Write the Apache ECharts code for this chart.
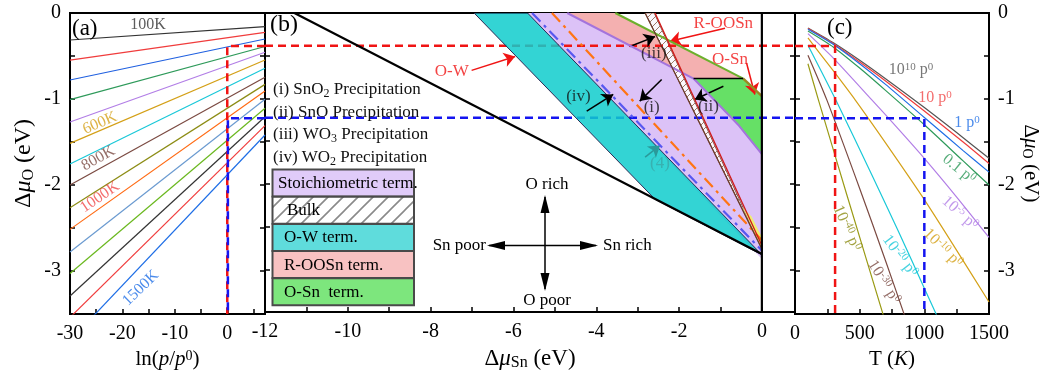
<!DOCTYPE html>
<html>
<head>
<meta charset="utf-8">
<script src="https://cdn.jsdelivr.net/npm/echarts@6.0.0/dist/echarts.min.js"></script>
<style>
html,body{margin:0;padding:0;background:#fff;}
#chart{width:1051px;height:376px;}
</style>
</head>
<body>
<div id="chart"></div>
<script>
// ================= DATA =================
// Panel (a): Δμ_O vs ln(p/p0) for T = 100K ... 1500K (straight lines, end values)
const lnpExtent = [-30, 7.2];
const tempNames = ['100K','200K','300K','400K','500K','600K','700K','800K','900K','1000K','1100K','1200K','1300K','1400K','1500K'];
const muAtLnpMin = [-0.314,-0.547,-0.779,-1.008,-1.267,-1.516,-1.756,-2.000,-2.264,-2.516,-2.780,-3.030,-3.290,-3.540,-3.810];
const muAtLnpMax = [-0.159,-0.225,-0.302,-0.390,-0.457,-0.547,-0.643,-0.748,-0.830,-0.907,-1.004,-1.108,-1.206,-1.310,-1.419];

// Panel (c): Δμ_O vs T for several pressures
const T_top    = [100, 300, 500, 700, 1000, 1300, 1500];
const mu_p1e10 = [-0.175,-0.350,-0.550,-0.765,-1.100,-1.450,-1.690];
const mu_p10   = [-0.180,-0.360,-0.570,-0.790,-1.140,-1.500,-1.750];
const mu_p1    = [-0.190,-0.370,-0.590,-0.830,-1.215,-1.600,-1.850];
const mu_p01   = [-0.210,-0.400,-0.640,-0.900,-1.300,-1.720,-2.000];
const T_pm5    = [100, 300, 594, 800, 1000, 1250, 1500];
const mu_pm5   = [-0.240,-0.530,-1.010,-1.350,-1.690,-2.140,-2.610];
const T_pm10   = [100, 300, 465, 700, 1000, 1250, 1500];
const mu_pm10  = [-0.290,-0.680,-1.010,-1.510,-2.170,-2.760,-3.360];
const T_pm20   = [100, 315, 600, 800, 1000, 1100];
const mu_pm20  = [-0.375,-1.010,-1.900,-2.540,-3.200,-3.530];
const T_pm30   = [100, 246, 500, 700, 850];
const mu_pm30  = [-0.490,-1.010,-2.040,-2.880,-3.530];
const T_pm40   = [100, 181, 400, 690];
const mu_pm40  = [-0.590,-1.010,-2.110,-3.550];

// Panel (b): stability regions, vertices [Δμ_Sn, Δμ_O]
const owTerm     = [[-6.95,0],[-5.66,0],[0,-2.83],[-2.58,-2.18]];
const stoichTerm = [[-5.66,0],[-4.70,0],[-1.65,-0.767],[-0.55,-1.32],[0,-1.65],[0,-2.88]];
const roosnTerm  = [[-4.70,0],[-3.54,0],[-0.45,-0.767],[-1.65,-0.767]];
const osnTerm    = [[-1.65,-0.767],[-0.45,-0.767],[0,-0.973],[0,-1.65],[-0.55,-1.32]];
const bulkBand   = [[-2.82,0],[-2.60,0],[0,-2.76]];
const bulkTip    = [[-0.47,-2.27],[-0.25,-2.38],[0,-2.62],[0,-2.76]];
const snwo4Line  = [[-11.29,0],[0,-2.82]];
const sno2Line   = [[-5.07,0],[0,-2.66]];   // (i)
const wo2Line    = [[-5.55,0],[0,-2.78]];   // (iv)
const snoLine    = [[-2.58,0],[0,-2.72]];   // (ii)
const bulkLeft   = [[-2.82,0],[0,-2.76]];
const greenEdge  = [[-3.54,0],[-0.45,-0.767]];
const oliveEdge  = [[-0.45,-0.767],[0,-0.973]];
const stepEdge   = [[-1.65,-0.767],[-0.45,-0.767]];
const purpleEdge = [[-4.70,0],[-1.65,-0.767],[-0.55,-1.32],[0,-1.65]];
const snRichEdge = [[0,0],[0,-3.5]];

// reference conditions (dashed guide lines)
const refMu  = [-0.384, -1.225];
const refT   = [310, 1000];
const refLnp = [0, 0.12];

// ================= STYLE =================
const FONT = "'Liberation Serif','Times New Roman',serif";
const colorsA = ['#333333','#f03c3c','#2060e0','#2e9a5a','#b27ee6','#d4a017','#19c8d8','#7b4a42',
                 '#8c8c14','#ff6a13','#6a9ad0','#6ab81e','#333333','#f03c3c','#1e6ee6'];
const RED = '#f01414', BLUE = '#1414f0';

function hatch(size, color, lw, bg) {
  const c = document.createElement('canvas');
  c.width = c.height = size;
  const g = c.getContext('2d');
  if (bg) { g.fillStyle = bg; g.fillRect(0,0,size,size); }
  g.strokeStyle = color; g.lineWidth = lw;
  g.beginPath();
  g.moveTo(0,size); g.lineTo(size,0);
  g.moveTo(-size/2,size/2); g.lineTo(size/2,-size/2);
  g.moveTo(size/2,size*1.5); g.lineTo(size*1.5,size/2);
  g.stroke();
  return c;
}
const legendHatch = {image: hatch(15,'#8a8a8a',1.6,'#ffffff'), repeat:'repeat'};
const bandHatch = {image: hatch(7,'#9a7a6a',1.0,'#fbf8fd'), repeat:'repeat'};

function lineS(xi, yi, data, color, width, type, z, smooth) {
  return {type:'line', xAxisIndex:xi, yAxisIndex:yi, data:data, showSymbol:false, symbol:'none',
    silent:true, z:z||3, clip:true, smooth: smooth||false,
    lineStyle:{color:color, width:width, type:type||'solid'}};
}
function polyS(verts, style, z) {
  return {type:'custom', xAxisIndex:1, yAxisIndex:2, z:z, silent:true, clip:true, data:verts,
    renderItem: function(params, api) {
      if (params.dataIndex !== 0) return null;
      const pts = [];
      for (let i = 0; i < verts.length; i++) pts.push(api.coord([api.value(0,i), api.value(1,i)]));
      return {type:'polygon', shape:{points:pts}, style:style};
    }};
}
function yAx(gridIndex, position, labels, extra) {
  return Object.assign({
    type:'value', gridIndex:gridIndex, position:position, min:-3.5, max:0, interval:0.5,
    axisLine:{show:true, onZero:false, lineStyle:{color:'#000', width:2}},
    axisTick:{show:true, inside:true, length:5, lineStyle:{color:'#000', width:1.5}},
    axisLabel:{show:labels, color:'#000', fontFamily:FONT, fontSize:20, margin:9,
      formatter: function(v){ return Math.abs(v-Math.round(v))<1e-6 ? String(Math.round(v)) : ''; }},
    splitLine:{show:false}
  }, extra||{});
}
function xAx(gridIndex, min, max, interval, labelStep, extra) {
  return Object.assign({
    type:'value', gridIndex:gridIndex, position:'bottom', min:min, max:max, interval:interval,
    axisLine:{show:true, onZero:false, lineStyle:{color:'#000', width:2}},
    axisTick:{show:true, inside:true, length:5, lineStyle:{color:'#000', width:1.5}},
    axisLabel:{color:'#000', fontFamily:FONT, fontSize:20, margin:10,
      formatter: function(v){ const r = v/labelStep; return Math.abs(r-Math.round(r))<1e-6 ? String(Math.round(v)) : ''; }},
    splitLine:{show:false}
  }, extra||{});
}
function nameRich(fs) {
  return {
    d:{fontFamily:FONT, fontSize:fs, color:'#000'},
    m:{fontFamily:FONT, fontSize:fs, fontStyle:'italic', color:'#000'},
    i:{fontFamily:FONT, fontSize:fs, fontStyle:'italic', color:'#000'},
    sub:{fontFamily:FONT, fontSize:Math.round(fs*0.68), color:'#000', verticalAlign:'bottom', padding:[Math.round(fs*0.4),0,0,0]},
    sup:{fontFamily:FONT, fontSize:Math.round(fs*0.66), color:'#000', verticalAlign:'top', padding:[0,0,Math.round(fs*0.38),0]}
  };
}
const labRich = {
  n:{fontFamily:FONT, fontSize:16},
  s:{fontFamily:FONT, fontSize:11, verticalAlign:'top', padding:[0,0,6,0]}
};

// ================= SERIES =================
const series = [];
// ---- panel (a)
for (let i = 0; i < tempNames.length; i++) {
  series.push(Object.assign(lineS(0,0,[[lnpExtent[0],muAtLnpMin[i]],[lnpExtent[1],muAtLnpMax[i]]], colorsA[i], 1.2), {name:tempNames[i]}));
}
series.push(lineS(0,0,[[lnpExtent[1],refMu[0]],[refLnp[0],refMu[0]],[refLnp[0],-3.5]], RED, 2.5, [8,5], 6));
series.push(lineS(0,0,[[lnpExtent[1],refMu[1]],[refLnp[1],refMu[1]],[refLnp[1],-3.5]], BLUE, 2.5, [8,5], 6));
series.push({type:'scatter', xAxisIndex:0, yAxisIndex:0, symbolSize:1, silent:true, z:8,
  itemStyle:{color:'rgba(0,0,0,0)'},
  label:{show:true, position:'inside', fontFamily:FONT, fontSize:16},
  data:[
    {value:[-15.1,-0.14], label:{formatter:'100K', color:'#333'}},
    {value:[-24.3,-1.28], label:{formatter:'600K', color:'#d4a017', rotate:23}},
    {value:[-24.6,-1.69], label:{formatter:'800K', color:'#7b4a42', rotate:29}},
    {value:[-24.3,-2.14], label:{formatter:'1000K', color:'#f04848', rotate:34}},
    {value:[-16.5,-3.20], label:{formatter:'1500K', color:'#1e6ee6', rotate:44}}
  ]});

// ---- panel (b)
series.push(polyS(stoichTerm, {fill:'#dcc2f7'}, 1));
series.push(polyS(roosnTerm, {fill:'#f4b0b0'}, 1));
series.push(polyS(osnTerm, {fill:'#66e066'}, 1));
series.push(polyS(bulkBand, {fill:bandHatch, stroke:'#8a5a4a', lineWidth:1}, 2));
series.push(polyS(bulkTip, {fill:'#f0ee70'}, 2));
series.push(lineS(1,2,[[-12,refMu[0]],[0.8,refMu[0]]], RED, 2.5, [8,5], 3));
series.push(lineS(1,2,[[-12,refMu[1]],[0.8,refMu[1]]], BLUE, 2.5, [8,5], 3));
series.push(polyS(owTerm, {fill:'rgba(15,204,204,0.85)', stroke:'#2a2a55', lineWidth:1}, 4));
series.push(lineS(1,2,purpleEdge, '#a474dc', 2, 'solid', 5));
series.push(lineS(1,2,greenEdge, '#6cb02c', 2, 'solid', 5));
series.push(lineS(1,2,oliveEdge, '#9a8a22', 2.5, 'solid', 5));
series.push(lineS(1,2,stepEdge, '#000', 1.5, 'solid', 5));
series.push(lineS(1,2,wo2Line, '#5858f0', 2.2, [12,5,3,5], 5));
series.push(lineS(1,2,sno2Line, '#ff7414', 2.2, [12,5,3,5], 5));
series.push(lineS(1,2,snoLine, '#d01818', 1.3, 'solid', 5));
series.push(lineS(1,2,bulkLeft, '#6a3a2a', 1.2, 'solid', 5));
series.push(lineS(1,2,snRichEdge, '#000', 2.2, 'solid', 6));
const arrowPairs = [
  {a:[-7.01,-0.671], b:[-5.96,-0.508], c:RED},
  {a:[-0.89,-0.178], b:[-2.22,-0.330], c:RED},
  {a:[-0.37,-0.585], b:[-0.17,-0.953], c:RED},
  {a:[-3.19,-0.392], b:[-2.58,-0.276], c:'#000'},
  {a:[-4.23,-1.148], b:[-3.59,-0.953], c:'#000'},
  {a:[-2.42,-0.779], b:[-2.95,-1.031], c:'#000'},
  {a:[-0.93,-0.857], b:[-1.62,-1.012], c:'#000'},
  {a:[-2.82,-1.686], b:[-2.46,-1.550], c:'#2a9a9a'}
];
series.push(Object.assign(lineS(1,2,snwo4Line, '#000', 2.2, 'solid', 6), {
  markLine:{silent:true, symbol:['none','arrow'], symbolSize:11, animation:false,
    label:{show:false}, lineStyle:{type:'solid', width:1.5},
    data: arrowPairs.map(p => [
      {coord:p.a, lineStyle:{color:p.c, type:'solid', width:1.5}, itemStyle:{color:p.c}},
      {coord:p.b, lineStyle:{color:p.c, type:'solid', width:1.5}, itemStyle:{color:p.c}}
    ])}
}));
series.push({type:'scatter', xAxisIndex:1, yAxisIndex:2, symbolSize:1, silent:true, z:9,
  itemStyle:{color:'rgba(0,0,0,0)'},
  label:{show:true, position:'inside', fontFamily:FONT, fontSize:17, color:'#111'},
  data:[
    {value:[-2.61,-0.477], label:{formatter:'(iii)'}},
    {value:[-4.43,-0.973], label:{formatter:'(iv)'}},
    {value:[-2.66,-1.108], label:{formatter:'(i)'}},
    {value:[-1.29,-1.090], label:{formatter:'(ii)'}},
    {value:[-2.46,-1.767], label:{formatter:'(4)', color:'#3aa8a8'}},
    {value:[-7.49,-0.683], label:{formatter:'O-W', color:RED}},
    {value:[-0.93,-0.120], label:{formatter:'R-OOSn', color:RED}},
    {value:[-0.77,-0.547], label:{formatter:'O-Sn', color:RED}}
  ]});

// ---- panel (c)
const curvesC = [
  {T:T_top, mu:mu_p1e10, c:'#555555'},
  {T:T_top, mu:mu_p10,   c:'#f03c3c'},
  {T:T_top, mu:mu_p1,    c:'#1e6ee6'},
  {T:T_top, mu:mu_p01,   c:'#2e9a5a'},
  {T:T_pm5, mu:mu_pm5,   c:'#b27ee6'},
  {T:T_pm10, mu:mu_pm10, c:'#d4a017'},
  {T:T_pm20, mu:mu_pm20, c:'#19c8d8'},
  {T:T_pm30, mu:mu_pm30, c:'#7b4a42'},
  {T:T_pm40, mu:mu_pm40, c:'#9a9a14'}
];
curvesC.forEach(cv => {
  series.push(lineS(2,4, cv.T.map((t,k)=>[t, cv.mu[k]]), cv.c, 1.2, 'solid', 3, 0.25));
});
series.push(lineS(2,4,[[0,refMu[0]],[refT[0],refMu[0]],[refT[0],-3.5]], RED, 2.5, [8,5], 6));
series.push(lineS(2,4,[[0,refMu[1]],[refT[1],refMu[1]],[refT[1],-3.5]], BLUE, 2.5, [8,5], 6));
series.push({type:'scatter', xAxisIndex:2, yAxisIndex:4, symbolSize:1, silent:true, z:8,
  itemStyle:{color:'rgba(0,0,0,0)'},
  label:{show:true, position:'inside', fontFamily:FONT, fontSize:16, rich:labRich},
  data:[
    {value:[897,-0.663],  label:{formatter:'{n|10}{s|10}{n| p}{s|0}', color:'#555'}},
    {value:[1083,-0.988], label:{formatter:'{n|10 p}{s|0}', color:'#f04848'}},
    {value:[1330,-1.279], label:{formatter:'{n|1 p}{s|0}', color:'#1e6ee6'}},
    {value:[1268,-1.814], label:{formatter:'{n|0.1 p}{s|0}', color:'#2e9a5a', rotate:-39}},
    {value:[1276,-2.326], label:{formatter:'{n|10}{s|-5}{n| p}{s|0}', color:'#b27ee6', rotate:-42}},
    {value:[1144,-2.733], label:{formatter:'{n|10}{s|-10}{n| p}{s|0}', color:'#d4a017', rotate:-45}},
    {value:[812,-2.826],  label:{formatter:'{n|10}{s|-20}{n| p}{s|0}', color:'#19c8d8', rotate:-53}},
    {value:[688,-3.128],  label:{formatter:'{n|10}{s|-30}{n| p}{s|0}', color:'#7b4a42', rotate:-58}},
    {value:[402,-2.500],  label:{formatter:'{n|10}{s|-40}{n| p}{s|0}', color:'#8c8c14', rotate:-66}}
  ]});

// ================= GRAPHIC (legend, compass, panel tags) =================
const graphic = [];
function txt(x, y, text, opts) {
  graphic.push({type:'text', x:x, y:y, silent:true, z:100,
    style:Object.assign({text:text, fontFamily:FONT, fontSize:17, fill:'#000', verticalAlign:'middle', align:'left'}, opts||{})});
}
txt(72, 29, '(a)', {fontSize:23});
txt(270, 25, '(b)', {fontSize:24});
txt(827, 28, '(c)', {fontSize:23});
const precip = ['{t|(i) SnO}{s|2}{t| Precipitation}', '{t|(ii) SnO Precipitation}',
                '{t|(iii) WO}{s|3}{t| Precipitation}', '{t|(iv) WO}{s|2}{t| Precipitation}'];
const precipRich = {t:{fontFamily:FONT, fontSize:17, fill:'#111'},
                    s:{fontFamily:FONT, fontSize:12, fill:'#111', verticalAlign:'bottom', padding:[7,0,0,0]}};
precip.forEach((p,k) => {
  graphic.push({type:'text', x:273, y:[90,112.5,135,158][k], z:100, silent:true,
    style:{text:p, rich:precipRich, verticalAlign:'middle', align:'left'}});
});
const legendItems = [
  {label:'Stoichiometric term.', fill:'#e0cbf9', tx:278},
  {label:'Bulk', fill:legendHatch, tx:287},
  {label:'O-W term.', fill:'#5fdcdc', tx:284},
  {label:'R-OOSn term.', fill:'#f8c2c2', tx:284},
  {label:'O-Sn  term.', fill:'#7de67d', tx:284}
];
legendItems.forEach((it,k) => {
  const top = 169.5 + k*27.2;
  graphic.push({type:'rect', silent:true, z:99, shape:{x:272.5, y:top, width:141.5, height:27},
    style:{fill:it.fill, stroke:'#4a4a4a', lineWidth:2}});
  txt(it.tx, top+14, it.label, {fontSize:17});
});
// compass
function arrowHead(tip, dir) { // dir: unit vector pointing toward tip
  const L = 18, W = 4.5;
  const bx = tip[0]-dir[0]*L, by = tip[1]-dir[1]*L;
  const px = -dir[1], py = dir[0];
  graphic.push({type:'polygon', silent:true, z:100,
    shape:{points:[tip,[bx+px*W,by+py*W],[bx-px*W,by-py*W]]}, style:{fill:'#000'}});
}
graphic.push({type:'line', silent:true, z:100, shape:{x1:545,y1:197,x2:545,y2:289}, style:{stroke:'#000', lineWidth:1.5}});
graphic.push({type:'line', silent:true, z:100, shape:{x1:489,y1:245.5,x2:596,y2:245.5}, style:{stroke:'#000', lineWidth:1.5}});
arrowHead([545,195],[0,-1]); arrowHead([545,291],[0,1]);
arrowHead([487,245.5],[-1,0]); arrowHead([598,245.5],[1,0]);
txt(547, 185, 'O rich', {align:'center'});
txt(547, 301, 'O poor', {align:'center'});
txt(486, 246, 'Sn poor', {align:'right'});
txt(603, 246, 'Sn rich', {align:'left'});

// ================= OPTION =================
const option = {
  animation:false,
  backgroundColor:'#ffffff',
  grid:[
    {left:70, top:13, width:195, height:301, show:true, borderColor:'#000', borderWidth:2, backgroundColor:'transparent'},
    {left:265, top:13, width:530, height:301, show:true, borderColor:'#000', borderWidth:2, backgroundColor:'transparent'},
    {left:795, top:13, width:194, height:301, show:true, borderColor:'#000', borderWidth:2, backgroundColor:'transparent'}
  ],
  xAxis:[
    xAx(0, lnpExtent[0], lnpExtent[1], 5, 10, {name:'{d|ln(}{i|p}{d|/}{i|p}{sup|0}{d|)}', nameLocation:'middle', nameGap:26, nameTextStyle:{rich:nameRich(21)}}),
    xAx(1, -12, 0.8, 1, 2, {name:'{d|Δ}{m|μ}{sub|Sn}{d| (eV)}', nameLocation:'middle', nameGap:25, nameTextStyle:{rich:nameRich(23)}}),
    xAx(2, 0, 1500, 250, 500, {name:'{d|T (}{i|K}{d|)}', nameLocation:'middle', nameGap:26, nameTextStyle:{rich:nameRich(21)}})
  ],
  yAxis:[
    yAx(0,'left',true,{name:'{d|Δ}{m|μ}{sub|O}{d| (eV)}', nameLocation:'middle', nameRotate:90, nameGap:33, nameTextStyle:{rich:nameRich(24)}}),
    yAx(0,'right',false),
    yAx(1,'left',false),
    yAx(1,'right',false),
    yAx(2,'left',false),
    yAx(2,'right',true,{name:'{d|Δ}{m|μ}{sub|O}{d| (eV)}', nameLocation:'middle', nameRotate:-90, nameGap:31, nameTextStyle:{rich:nameRich(21)}})
  ],
  series:series,
  graphic:graphic
};
const chart = echarts.init(document.getElementById('chart'), null, {renderer:'canvas'});
chart.setOption(option);
</script>
</body>
</html>
